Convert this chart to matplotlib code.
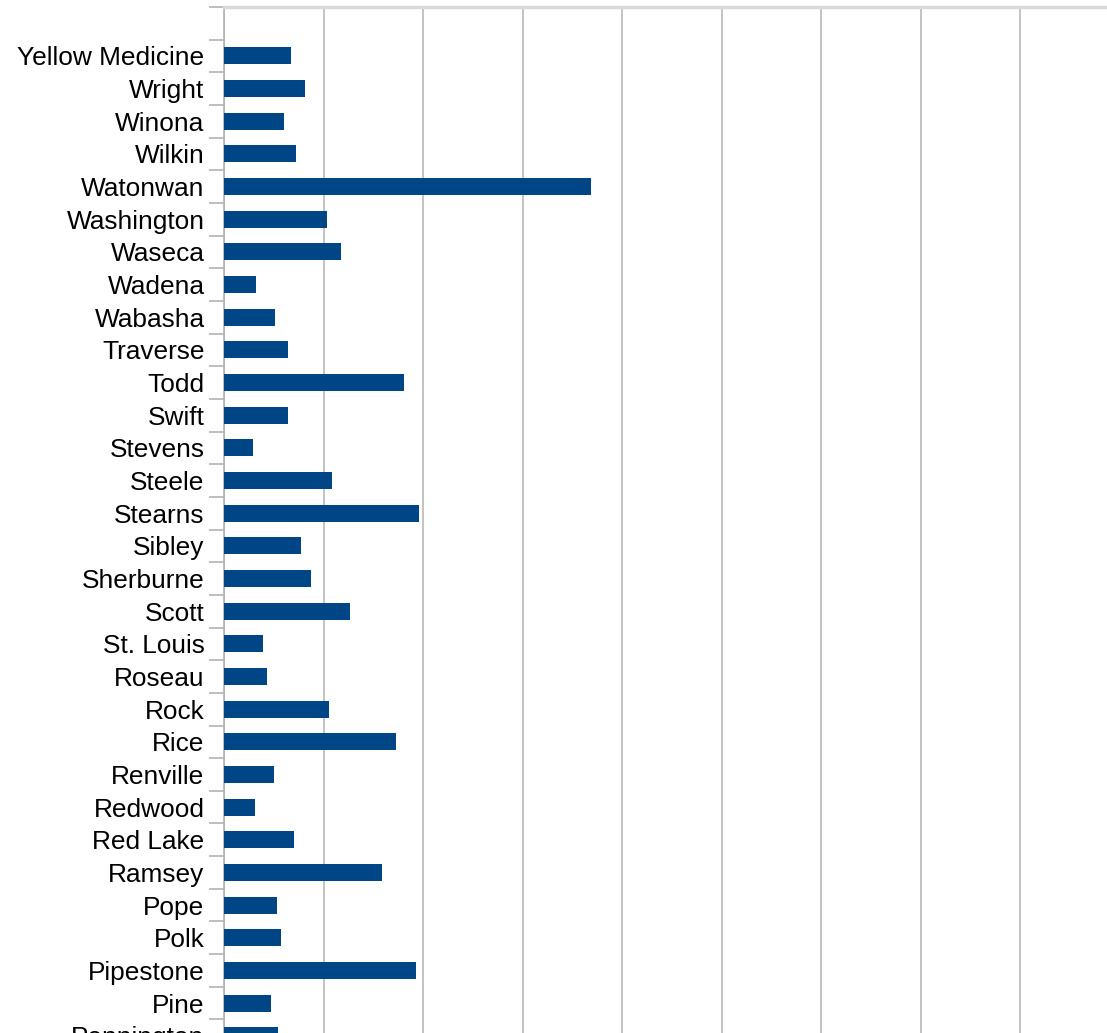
import numpy as np
import matplotlib
matplotlib.use("Agg")
import matplotlib.pyplot as plt
from matplotlib.ticker import FixedLocator, MultipleLocator

counties = ["Yellow Medicine", "Wright", "Winona", "Wilkin", "Watonwan",
            "Washington", "Waseca", "Wadena", "Wabasha", "Traverse", "Todd",
            "Swift", "Stevens", "Steele", "Stearns", "Sibley", "Sherburne",
            "Scott", "St. Louis", "Roseau", "Rock", "Rice", "Renville",
            "Redwood", "Red Lake", "Ramsey", "Pope", "Polk", "Pipestone",
            "Pine", "Pennington"]
values = [3.37, 4.07, 3.02, 3.62, 18.44, 5.18, 5.88, 1.61, 2.56, 3.22, 9.05,
          3.22, 1.46, 5.43, 9.80, 3.87, 4.37, 6.33, 1.96, 2.16, 5.28, 8.64,
          2.51, 1.56, 3.52, 7.94, 2.66, 2.86, 9.65, 2.36, 2.71]

plt.rcParams['font.family'] = ['Liberation Sans', 'DejaVu Sans']

W, H = 1107, 1033
fig = plt.figure(figsize=(W / 100, H / 100), dpi=100)

# plot area runs past the bottom and right edge of the image (cropped chart)
n_slots = len(counties) + 1
slot = 32.66
top = 7
ax_h = n_slots * slot
ax = fig.add_axes([224 / W, (H - top - ax_h) / H, (W - 224) / W, ax_h / H])

y = np.arange(len(counties))
ax.barh(y, values, height=0.52, color="#004586", zorder=3)

ax.set_xlim(0, (W - 224) / 19.9)
ax.set_ylim(len(counties) - 0.5, -1.5)

ax.xaxis.set_major_locator(MultipleLocator(5))
ax.grid(axis="x", color="#b3b3b3", linewidth=1.1, zorder=0)
ax.tick_params(axis="x", length=0, labelbottom=False)

ax.yaxis.set_major_locator(FixedLocator(np.arange(-1.5, len(counties), 1)))
ax.yaxis.set_minor_locator(FixedLocator(y))
ax.set_yticks(y, counties, minor=True)
ax.tick_params(axis="y", which="major", length=11, color="#b3b3b3",
               width=1.2, labelleft=False)
ax.tick_params(axis="y", which="minor", length=0, pad=14, labelsize=18.9,
               labelcolor="#000000")

for side in ["right", "bottom"]:
    ax.spines[side].set_visible(False)
ax.spines["left"].set_color("#b3b3b3")
ax.spines["left"].set_linewidth(1.2)
ax.spines["top"].set_color("#d9d9d9")
ax.spines["top"].set_linewidth(2.5)

fig.savefig("out.png", dpi=100)
